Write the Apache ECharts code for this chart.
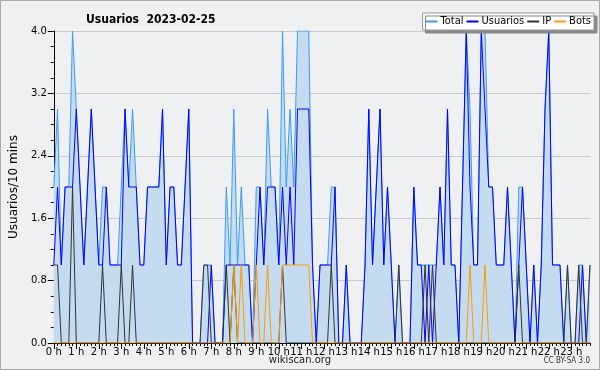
<!DOCTYPE html>
<html><head><meta charset="utf-8">
<script src="https://cdn.jsdelivr.net/npm/echarts@6/dist/echarts.min.js"></script>
<style>html,body{margin:0;padding:0;background:#fff}#c{width:600px;height:370px}</style>
</head><body><div id="c"></div>
<script>
const hourLabels = ['0 h','1 h','2 h','3 h','4 h','5 h','6 h','7 h','8 h','9 h','10 h','11 h','12 h','13 h','14 h','15 h','16 h','17 h','18 h','19 h','20 h','21 h','22 h','23 h'];
const yTickLabels = ['0.0','0.8','1.6','2.4','3.2','4.0'];
// one value per 10 minutes, 00:00 .. 23:50
const usuarios = [
1,2,1,2,2,2,3,2,1,2,3,2, 1,1,2,1,1,1,1,3,2,2,2,1,
1,2,2,2,2,3,1,2,2,1,1,2, 3,0,0,0,0,0,1,0,0,0,1,1,
1,1,1,1,1,0,1,2,1,2,2,2, 1,2,1,2,1,3,3,3,3,1,0,1,
1,1,1,2,0,0,1,0,0,0,0,1, 3,1,2,3,1,2,1,0,0,0,0,0,
2,1,1,0,1,0,1,2,1,3,1,1, 0,2,4,2,1,1,4,3,2,2,1,1,
1,2,1,0,1,2,1,0,1,0,1,3, 4,1,1,1,0,0,0,0,0,1,0,0];
const ip = [
1,1,0,0,0,2,0,0,0,0,0,0, 0,1,0,0,0,0,1,0,0,1,0,0,
0,0,0,0,0,0,0,0,0,0,0,0, 0,0,0,0,1,1,0,0,0,0,1,0,
1,0,0,0,0,0,0,0,0,0,0,0, 0,1,0,0,0,0,0,0,0,0,0,0,
0,0,1,0,0,0,0,0,0,0,0,0, 0,0,0,0,0,0,0,0,1,0,0,0,
0,0,0,1,0,1,0,0,0,0,0,0, 0,0,0,0,0,0,0,0,0,0,0,0,
0,0,0,0,1,0,0,0,0,0,0,0, 0,0,0,0,0,1,0,0,1,0,0,1];
const bots = [
0,0,0,0,0,0,0,0,0,0,0,0, 0,0,0,0,0,0,0,0,0,0,0,0,
0,0,0,0,0,0,0,0,0,0,0,0, 0,0,0,0,0,0,0,0,0,0,0,0,
1,0,1,0,0,0,1,0,0,1,0,0, 0,1,1,1,1,1,1,1,1,0,0,0,
0,0,0,0,0,0,0,0,0,0,0,0, 0,0,0,0,0,0,0,0,0,0,0,0,
0,0,0,0,0,0,0,0,0,0,0,0, 0,0,0,1,0,0,0,1,0,0,0,0,
0,0,0,0,0,0,0,0,0,0,0,0, 0,0,0,0,0,0,0,0,0,0,0,0];
const total = [
2,3,1,2,2,4,3,2,1,2,3,2, 1,2,2,1,1,1,2,3,2,3,2,1,
1,2,2,2,2,3,1,2,2,1,1,2, 3,0,0,0,1,1,1,0,0,0,2,1,
3,1,2,1,1,0,2,2,1,3,2,2, 1,4,2,3,2,4,4,4,4,1,0,1,
1,1,2,2,0,0,1,0,0,0,0,1, 3,1,2,3,1,2,1,0,1,0,0,0,
2,1,1,1,1,1,1,2,1,3,1,1, 0,2,4,3,1,1,4,4,2,2,1,1,
1,2,1,0,2,2,1,0,1,0,1,3, 4,1,1,1,0,1,0,0,1,1,0,1];

const pts = a => a.map((v, i) => [i, v]);
const minorX = Array.from({length: 144}, (_, i) => i);
const hourX = hourLabels.map((_, h) => h * 6);
const FONT = 'DejaVu Sans';
const FONTC = '"DejaVu Sans Condensed", "DejaVu Sans"';

const chart = echarts.init(document.getElementById('c'), null, {renderer: 'canvas'});
chart.setOption({
  backgroundColor: '#eff0f1',
  animation: false,
  textStyle: {fontFamily: FONT},
  title: {
    text: 'Usuarios  2023-02-25', left: 81, top: 9,
    textStyle: {fontFamily: FONTC, fontSize: 12, fontWeight: 'bold', color: '#000'}
  },
  legend: {
    right: 6, top: 13, orient: 'horizontal',
    backgroundColor: '#ffffff', borderColor: '#999', borderWidth: 1,
    shadowColor: '#888', shadowOffsetX: 3, shadowOffsetY: 3, shadowBlur: 0,
    padding: [3, 3], itemGap: 3, itemWidth: 12, itemHeight: 2,
    icon: 'rect',
    textStyle: {fontFamily: FONTC, fontSize: 11, color: '#000', padding: [0, 0, 0, -2]},
    data: ['Total', 'Usuarios', 'IP', 'Bots']
  },
  grid: {left: 46, right: 10, top: 31, bottom: 27, containLabel: false},
  xAxis: [{
    type: 'value', min: 0, max: 143, position: 'bottom',
    axisLine: {show: true, onZero: false, lineStyle: {color: '#000', width: 1}},
    axisTick: {show: true, customValues: minorX, length: 3, lineStyle: {color: '#000'}},
    axisLabel: {show: false}, splitLine: {show: false}
  }, {
    type: 'value', min: 0, max: 143, position: 'bottom',
    axisLine: {show: false},
    axisTick: {show: true, customValues: hourX, length: 6, lineStyle: {color: '#000'}},
    axisLabel: {show: true, customValues: hourX, margin: 4, fontFamily: FONT, fontSize: 10, color: '#000',
      formatter: v => hourLabels[Math.round(v / 6)]},
    splitLine: {show: false}
  }],
  yAxis: {
    type: 'value', min: 0, max: 4, interval: 0.8,
    name: 'Usuarios/10 mins', nameLocation: 'middle', nameGap: 31, nameRotate: 90,
    nameTextStyle: {fontFamily: FONT, fontSize: 12, color: '#000'},
    axisLine: {show: true, lineStyle: {color: '#000', width: 1}},
    axisTick: {show: true, length: 6, lineStyle: {color: '#000'}},
    minorTick: {show: true, splitNumber: 4, length: 3, lineStyle: {color: '#000'}},
    axisLabel: {fontFamily: FONT, fontSize: 10, color: '#000', margin: 7,
      formatter: v => yTickLabels[Math.round(v / 0.8)]},
    splitLine: {show: true, lineStyle: {color: '#c8c8c8', width: 1}}
  },
  series: [
    {name: 'Total', type: 'line', data: pts(total), showSymbol: false, symbol: 'none',
     lineStyle: {color: '#3a9cf4', width: 1}, itemStyle: {color: '#3a9cf4'},
     areaStyle: {color: '#c5dcf0', opacity: 1}, z: 1},
    {name: 'Usuarios', type: 'line', data: pts(usuarios), showSymbol: false, symbol: 'none',
     lineStyle: {color: '#0000ff', width: 1}, itemStyle: {color: '#0000ff'}, z: 2},
    {name: 'IP', type: 'line', data: pts(ip), showSymbol: false, symbol: 'none',
     lineStyle: {color: '#333333', width: 1}, itemStyle: {color: '#333333'}, z: 3},
    {name: 'Bots', type: 'line', data: pts(bots), showSymbol: false, symbol: 'none',
     lineStyle: {color: '#ff9900', width: 1}, itemStyle: {color: '#ff9900'}, z: 4}
  ],
  graphic: [
    {type: 'rect', shape: {x: 0.5, y: 0.5, width: 599, height: 369}, silent: true,
     style: {fill: 'none', stroke: '#aaaaaa', lineWidth: 1}},
    {type: 'text', left: 'center', top: 355, silent: true,
     style: {text: 'wikiscan.org', fontFamily: FONT, fontSize: 10, fill: '#222'}},
    {type: 'text', right: 10, top: 357, silent: true,
     style: {text: 'CC BY-SA 3.0', fontFamily: FONTC, fontSize: 8, fill: '#333'}}
  ]
});
</script>
</body></html>
